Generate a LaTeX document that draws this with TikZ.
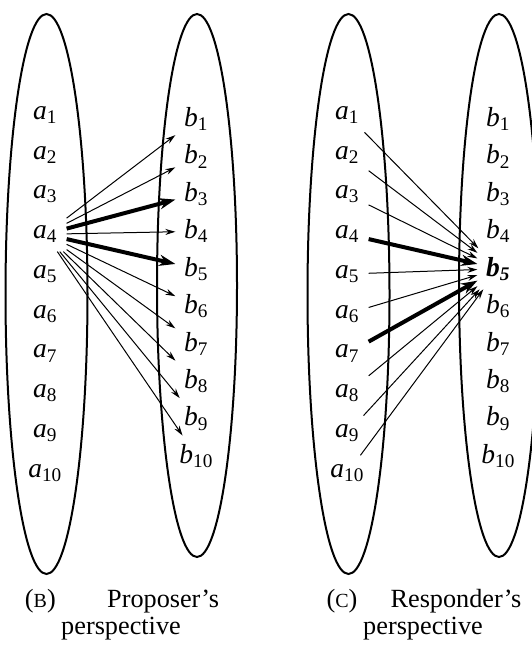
\documentclass[tikz,border=0pt]{standalone}
\usepackage{fontspec}
\setmainfont{Liberation Serif}
\usetikzlibrary{arrows.meta}
% element labels: italic letter with an upright subscript
\newcommand\elemA[1]{\textit{a}\textsubscript{#1}}
\newcommand\elemB[1]{\textit{b}\textsubscript{#1}}
\newcommand\fakesc[1]{{\fontsize{8}{9}\selectfont #1}}
\begin{document}
\begin{tikzpicture}[x=0.4pt,y=-0.4pt,
  setline/.style={line width=0.8pt},
  lbl/.style={font=\fontsize{11}{13}\selectfont},
  thinarrow/.style={line width=0.4pt,-{Stealth[length=4pt,width=2.4pt]}},
  boldarrow/.style={line width=1.6pt,-{Stealth[length=6.5pt,width=4.5pt]}},
  captext/.style={font=\fontsize{10.5}{12}\selectfont,anchor=base,inner sep=0pt}]
\useasboundingbox (0,0) rectangle (532,646);
\clip (0,0) rectangle (532,646);

% ---------- (B) proposer's perspective ----------
\draw[setline] (46.5,294) ellipse [x radius=41, y radius=280];
\draw[setline] (197,285.5) ellipse [x radius=40, y radius=271.5];
\foreach \i in {1,...,10} {
  \node[lbl] (pa\i) at (45.5,{115+39.75*(\i-1)}) {\elemA{\i}};
  \node[lbl] (pb\i) at (196.5,{119+37.45*(\i-1)}) {\elemB{\i}};
}
\foreach \j in {1,2,4,6,7,8,9,10}
  \draw[thinarrow] (pa4) -- (pb\j);
\draw[boldarrow] (pa4) -- (pb3);
\draw[boldarrow] (pa4) -- (pb5);

\node[captext] (capB1) at (122,607.7) {\makebox[77.6pt][s]{(\fakesc{B})\hfill Proposer’s}};
\node[captext] (capB2) at (121,634.3) {perspective};

% ---------- (C) responder's perspective ----------
\draw[setline] (348.5,294) ellipse [x radius=41, y radius=280];
\draw[setline] (499,285.5) ellipse [x radius=40, y radius=271.5];
\foreach \i in {1,...,10} {
  \node[lbl] (ra\i) at (347.5,{115+39.75*(\i-1)}) {\elemA{\i}};
  \node[lbl] (rb\i) at (498.5,{119+37.45*(\i-1)})
    {\ifnum\i=5 \bfseries\itshape b\textsubscript{5}\else\elemB{\i}\fi};
}
\foreach \j in {1,2,3,5,6,8,9,10}
  \draw[thinarrow] (ra\j) -- (rb5);
\draw[boldarrow] (ra4) -- (rb5);
\draw[boldarrow] (ra7) -- (rb5);

\node[captext] (capC1) at (424,607.7) {\makebox[77.9pt][s]{(\fakesc{C})\hfill Responder’s}};
\node[captext] (capC2) at (423,634.3) {perspective};
\end{tikzpicture}
\end{document}
